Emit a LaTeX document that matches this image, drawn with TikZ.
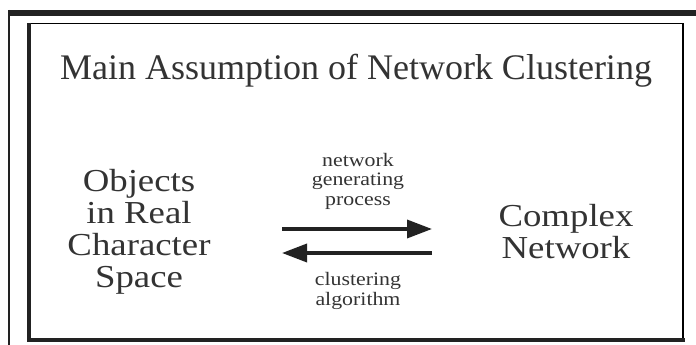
\documentclass[tikz,border=0pt]{standalone}
\usepackage{fontspec}
\setmainfont{Liberation Serif}
\newfontfamily\widefont[FakeStretch=1.15]{Liberation Serif}
\usetikzlibrary{arrows.meta}
\definecolor{ink}{HTML}{222222}
\definecolor{txt}{HTML}{333333}
\definecolor{thin}{HTML}{555555}
\tikzset{
  bigtxt/.style={font=\widefont\fontsize{32}{32}\selectfont, text=txt, align=center, inner sep=0pt},
  smalltxt/.style={font=\widefont\fontsize{19}{19.5}\selectfont, text=txt, align=center, inner sep=0pt},
  flow/.style={ink, line width=3.5pt, -{Triangle[length=25pt,width=18pt]}},
}
\begin{document}
\begin{tikzpicture}[x=1pt,y=-1pt]
\useasboundingbox (0,0) rectangle (696,345);
% outer frame lines
\draw[ink, line width=6pt] (9,13) -- (696,13);
\draw[ink, line width=1.3pt] (9,10) -- (9,345);
% inner box
\draw[thin, line width=1.2pt] (27,23.5) -- (683,23.5) -- (683,340);
\draw[ink, line width=4pt] (29,23) -- (29,340) -- (685,340);
% texts
\node[font=\fontsize{36}{36}\selectfont, text=txt, inner sep=0pt, anchor=base] (title) at (356,79) {Main Assumption of Network Clustering};
\node[bigtxt, anchor=base] (obj) at (139,287) {Objects\\in Real\\Character\\Space};
\node[bigtxt, anchor=base] (cn) at (566,258) {Complex\\Network};
\node[smalltxt, anchor=base] (ngp) at (358,205) {network\\generating\\process};
\node[smalltxt, anchor=base] (ca) at (358,305) {clustering\\algorithm};
% arrows
\coordinate (a1) at (282,229);
\coordinate (b1) at (432,229);
\coordinate (a2) at (432,253);
\coordinate (b2) at (282,253);
\draw[flow] (a1) -- (b1);
\draw[flow] (a2) -- (b2);
\end{tikzpicture}
\end{document}
